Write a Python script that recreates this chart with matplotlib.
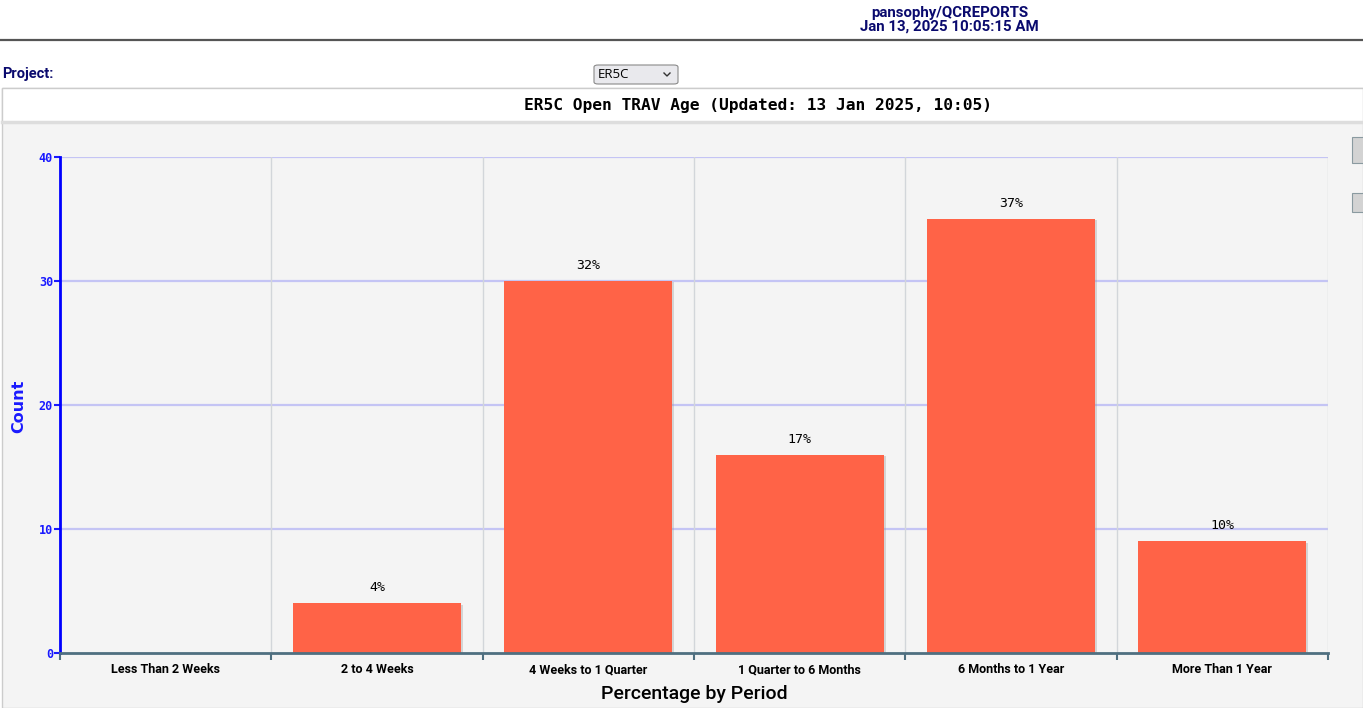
import matplotlib
matplotlib.use("Agg")
import matplotlib.pyplot as plt
from matplotlib.patches import Rectangle, FancyBboxPatch
from matplotlib.lines import Line2D
import matplotlib.patheffects as pe

categories = ["Less Than 2 Weeks", "2 to 4 Weeks", "4 Weeks to 1 Quarter",
              "1 Quarter to 6 Months", "6 Months to 1 Year", "More Than 1 Year"]
counts = [0, 4, 30, 16, 35, 9]
y_ticks = [0, 10, 20, 30, 40]
title = "ER5C Open TRAV Age (Updated: 13 Jan 2025, 10:05)"
header_lines = ["pansophy/QCREPORTS", "Jan 13, 2025 10:05:15 AM"]
project_label = "Project:"
project_value = "ER5C"

W, H = 1363, 708
fig = plt.figure(figsize=(W / 100, H / 100), dpi=100)
fig.patch.set_facecolor("white")

def fx(x):
    return x / W

def fy(y):
    return 1 - y / H

NARROW = ["Roboto", "DejaVu Sans"]
NAVY = "#0a0a6e"

# Header
fig.text(fx(950), fy(13), header_lines[0], ha="center", va="center",
         fontsize=10.8, fontweight="bold", color=NAVY, family=NARROW)
fig.text(fx(949), fy(27), header_lines[1], ha="center", va="center",
         fontsize=10.8, fontweight="bold", color=NAVY, family=NARROW)
fig.add_artist(Line2D([0, 1], [fy(40), fy(40)], transform=fig.transFigure,
                      color="#555555", lw=1.6))

# Project row
fig.text(fx(2), fy(74), project_label, ha="left", va="center",
         fontsize=10.5, fontweight="bold", color=NAVY, family=NARROW)
fig.add_artist(FancyBboxPatch((fx(594), fy(84)), fx(84), 19 / H,
                              boxstyle="round,pad=0,rounding_size=0.003",
                              transform=fig.transFigure, facecolor="#e9e9ed",
                              edgecolor="#8a8a8a", lw=0.8))
fig.text(fx(598), fy(74.5), project_value, ha="left", va="center",
         fontsize=9.5, color="black", family=["Open Sans", "DejaVu Sans"])
fig.add_artist(Line2D([fx(664), fx(667), fx(670)], [fy(73), fy(76), fy(73)],
                      transform=fig.transFigure, color="#333333", lw=1))

# Chart panel
fig.add_artist(Rectangle((fx(2), fy(708)), fx(1361), (708 - 88) / H,
                         transform=fig.transFigure, facecolor="#f4f4f4",
                         edgecolor="#cccccc", lw=1, zorder=0))
fig.add_artist(Rectangle((fx(2), fy(122)), fx(1361), 34 / H,
                         transform=fig.transFigure, facecolor="white",
                         edgecolor="#cccccc", lw=1, zorder=0.5))
fig.add_artist(Line2D([fx(2), 1], [fy(122), fy(122)], transform=fig.transFigure,
                      color="#dddddd", lw=2.5, zorder=0.6))
fig.text(fx(758), fy(105.5), title, ha="center", va="center",
         fontsize=11.7, fontweight="bold", color="black", family="DejaVu Sans Mono")

# Scroll-like widgets on the right
for y0, y1 in [(137, 163), (193, 212)]:
    fig.add_artist(Rectangle((fx(1352), fy(y1)), fx(14), (y1 - y0) / H,
                             transform=fig.transFigure, facecolor="#d3d3d3",
                             edgecolor="#8a9aa0", lw=0.8, zorder=1))

# Axes
ax = fig.add_axes([fx(60), fy(653), fx(1328 - 60), (653 - 157) / H])
ax.set_facecolor("none")
x = list(range(len(categories)))
bars = ax.bar(x, counts, width=0.795, color="#ff6347", zorder=3)
for b in bars:
    b.set_path_effects([pe.SimplePatchShadow(offset=(1.5, -1), shadow_rgbFace="#999999", alpha=0.35),
                        pe.Normal()])

total = sum(counts)
for xi, v in zip(x, counts):
    if v > 0:
        ax.annotate(f"{round(v / total * 100)}%", (xi, v), xytext=(0, 6.5),
                    textcoords="offset points", ha="center", va="bottom",
                    fontsize=9.5, family="DejaVu Sans Mono", color="black", zorder=4)

ax.set_xlim(-0.5, len(categories) - 0.5)
ax.set_ylim(0, 40)
ax.set_yticks(y_ticks)
ax.set_yticklabels([str(t) for t in y_ticks], family="DejaVu Sans Mono",
                   fontweight="bold", fontsize=8.5, color="#1a1aff")
for t in y_ticks[1:]:
    ax.axhline(t, color="#c4c4f4", lw=1.6, zorder=1)
for b in [i + 0.5 for i in range(len(categories))]:
    ax.axvline(b, color="#d2d6da", lw=1, zorder=1)

ax.set_xticks([i + 0.5 for i in range(-1, len(categories))])
ax.set_xticklabels([])
ax.tick_params(axis="x", length=5, width=1.5, color="#4f6f80", direction="out")
ax.tick_params(axis="y", length=4, width=1.5, color="#1a1aff", direction="out", pad=1)
ax.set_xticks(x, minor=True)
ax.set_xticklabels(categories, minor=True, fontsize=9, fontweight="bold",
                   family=NARROW, color="black")
ax.tick_params(axis="x", which="minor", length=0, pad=7.5)

for s in ["top", "right"]:
    ax.spines[s].set_visible(False)
ax.spines["left"].set_color("#0000ff")
ax.spines["left"].set_linewidth(2)
ax.spines["bottom"].set_color("#4f6f80")
ax.spines["bottom"].set_linewidth(2)
ax.spines["left"].set_zorder(5)
ax.spines["bottom"].set_zorder(5)

fig.text(fx(694), fy(694), "Percentage by Period", ha="center", va="center",
         fontsize=14, fontweight="medium", color="black", family=NARROW)
fig.text(fx(19), fy(406), "Count", ha="center", va="center", rotation=90,
         fontsize=11.5, fontweight="bold", color="#1a1aff", family="DejaVu Sans")

fig.savefig("out.png", dpi=100)
